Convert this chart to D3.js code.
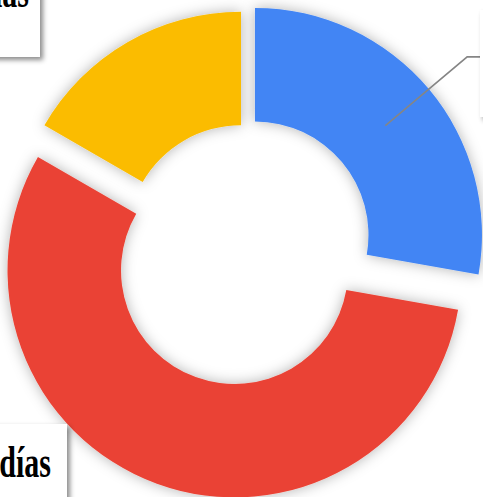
<!DOCTYPE html>
<html>
<head>
<meta charset="utf-8">
<script src="https://cdn.jsdelivr.net/npm/d3@7"></script>
<style>
  body { margin: 0; background: #fff; }
  svg { display: block; }
</style>
</head>
<body>
<div id="chart"></div>
<script>
// chart data
var categories = ["1 a 2 días", "3 a 5 días", "Más de 5 días"];
var values = [5, 10, 3];
var colors = ["#4285f4", "#ea4335", "#fbbc04"];

var width = 483, height = 497;
var cx = 244.1, cy = 244.1;
var outerR = 227, innerR = 113.5;
// how far each slice is pulled out from the centre, px
var sliceOffsets = [14.2, 28, 6.2];

var svg = d3.select("#chart")
    .append("svg")
    .attr("width", width)
    .attr("height", height);

var defs = svg.append("defs");
var glow = defs.append("filter")
    .attr("id", "glow")
    .attr("x", "-25%").attr("y", "-25%")
    .attr("width", "150%").attr("height", "150%");
glow.append("feDropShadow")
    .attr("dx", 0).attr("dy", 0)
    .attr("stdDeviation", 7)
    .attr("flood-color", "#000")
    .attr("flood-opacity", 0.3);

var boxShadow = defs.append("filter")
    .attr("id", "boxShadow")
    .attr("x", "-20%").attr("y", "-20%")
    .attr("width", "140%").attr("height", "140%");
boxShadow.append("feDropShadow")
    .attr("dx", 3).attr("dy", 3)
    .attr("stdDeviation", 2.5)
    .attr("flood-color", "#000")
    .attr("flood-opacity", 0.45);

var pie = d3.pie().sort(null).value(function (d) { return d; });
var arcs = pie(values);

var arc = d3.arc().innerRadius(innerR).outerRadius(outerR);

function offsetOf(d, i) {
    var mid = (d.startAngle + d.endAngle) / 2;
    return [sliceOffsets[i] * Math.sin(mid), -sliceOffsets[i] * Math.cos(mid)];
}

var g = svg.append("g")
    .attr("transform", "translate(" + cx + "," + cy + ")");

g.selectAll("path.slice")
    .data(arcs)
    .enter()
    .append("path")
    .attr("class", "slice")
    .attr("filter", "url(#glow)")
    .attr("fill", function (d, i) { return colors[i]; })
    .attr("transform", function (d, i) {
        var o = offsetOf(d, i);
        return "translate(" + o[0] + "," + o[1] + ")";
    })
    .attr("d", arc);

// leader line for the first slice (goes to the box on the right)
var first = arcs[0];
var o0 = offsetOf(first, 0);
var c0 = arc.centroid(first);
var mid0 = (first.startAngle + first.endAngle) / 2;
var elbow = [277 * Math.sin(mid0) + o0[0], -277 * Math.cos(mid0) + o0[1]];
g.append("polyline")
    .attr("fill", "none")
    .attr("stroke", "#858585")
    .attr("stroke-width", 1.6)
    .attr("points", [
        [c0[0] + o0[0], c0[1] + o0[1]],
        elbow,
        [elbow[0] + 13, elbow[1]]
    ].map(function (p) { return p.join(","); }).join(" "));

// label boxes (mostly outside the visible area)
var boxes = [
    {x: 480, y: 10, w: 180, h: 107, tx: 495, ty: 70, anchor: "start"},
    {x: -150, y: 424, w: 217, h: 110, tx: 51, ty: 477, anchor: "end"},
    {x: -200, y: -60, w: 240, h: 117, tx: 29, ty: 7, anchor: "end"}
];

var labels = svg.selectAll("g.label")
    .data(arcs)
    .enter()
    .append("g")
    .attr("class", "label");

labels.append("rect")
    .attr("x", function (d, i) { return boxes[i].x; })
    .attr("y", function (d, i) { return boxes[i].y; })
    .attr("width", function (d, i) { return boxes[i].w; })
    .attr("height", function (d, i) { return boxes[i].h; })
    .attr("fill", "#fff")
    .attr("filter", "url(#boxShadow)");

labels.append("text")
    .attr("transform", function (d, i) {
        return "translate(" + boxes[i].tx + "," + boxes[i].ty + ") scale(1,1.45)";
    })
    .attr("text-anchor", function (d, i) { return boxes[i].anchor; })
    .style("font-family", "'Liberation Serif', 'Times New Roman', serif")
    .style("font-weight", "bold")
    .style("font-size", "30px")
    .attr("fill", "#000")
    .text(function (d, i) { return categories[i]; });
</script>
</body>
</html>
